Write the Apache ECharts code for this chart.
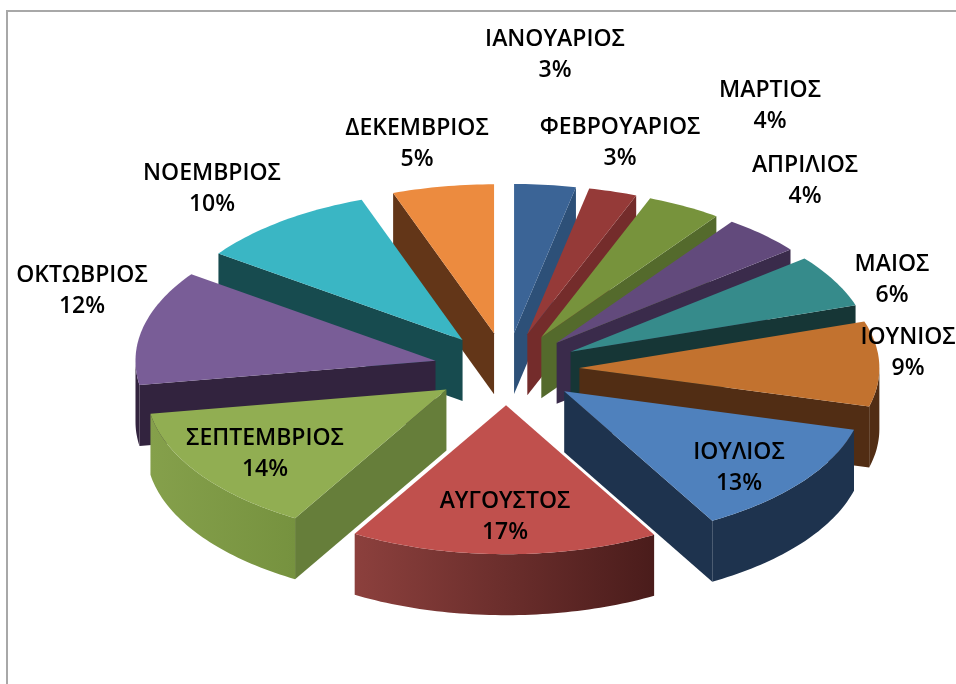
<!DOCTYPE html>
<html><head><meta charset="utf-8">
<style>html,body{margin:0;padding:0;background:#fff}#c{width:956px;height:684px}</style>
<script src="https://cdn.jsdelivr.net/npm/echarts@6/dist/echarts.min.js"></script>
</head><body><div id="c"></div>
<script>
const months = ['ΙΑΝΟΥΑΡΙΟΣ','ΦΕΒΡΟΥΑΡΙΟΣ','ΜΑΡΤΙΟΣ','ΑΠΡΙΛΙΟΣ','ΜΑΙΟΣ','ΙΟΥΝΙΟΣ','ΙΟΥΛΙΟΣ','ΑΥΓΟΥΣΤΟΣ','ΣΕΠΤΕΜΒΡΙΟΣ','ΟΚΤΩΒΡΙΟΣ','ΝΟΕΜΒΡΙΟΣ','ΔΕΚΕΜΒΡΙΟΣ'];
const shares = [3.3,2.6,4.0,4.3,5.7,9.2,12.6,16.6,13.95,12.45,9.65,5.45];
const topColors = ['#3b6496','#953a38','#77933c','#624a7c','#368b8b','#c2722f','#4f81bd','#c0504d','#91ae52','#795d97','#3ab6c4','#ec8b3f'];
const wallColors = ['#2d5078','#742c2b','#546a2c','#3a2b4b','#163636','#512d14','#1e334e','#5e2624','#667e3a','#32233e','#174b4f','#633618'];
const rimLight = ['#3b6496','#953a38','#77933c','#624a7c','#368b8b','#512d14','#1e334e','#8c403d','#85a04b','#32233e','#174b4f','#633618'];
const rimDark = ['#2d5078','#742c2b','#546a2c','#3a2b4b','#163636','#512d14','#1e334e','#4a1c1b','#76923f','#32233e','#174b4f','#633618'];
const labelCentres = [[555,55],[620,143],[770,106],[805,181],[892,280],[908,353],[739,468],[505,517],[265,454],[82,291],[212,189],[417,144]];

const pie = {cx:506.5, cy:369, rx:300, ry:149, explode:0.243, depth:61};
const total = shares.reduce((a,b)=>a+b,0);
let run = 0;
const spans = shares.map(v=>{const s=run/total*2*Math.PI; run+=v; return [s,run/total*2*Math.PI];});
const order = shares.map((_,i)=>i).sort((p,q)=>{
  const mp=(spans[p][0]+spans[p][1])/2, mq=(spans[q][0]+spans[q][1])/2;
  return Math.cos(mq)-Math.cos(mp);
});

function renderSlice(params, api){
  const i = api.value(0);
  const [a1,a2] = spans[i];
  const mid=(a1+a2)/2;
  const ox = pie.cx+pie.rx*pie.explode*Math.sin(mid);
  const oy = pie.cy-pie.ry*pie.explode*Math.cos(mid);
  const at=(a,d=0)=>[ox+pie.rx*Math.sin(a), oy-pie.ry*Math.cos(a)+d];
  const arc=(s,e,d=0)=>{const n=Math.max(2,Math.ceil((e-s)/0.02));const p=[];for(let k=0;k<=n;k++)p.push(at(s+(e-s)*k/n,d));return p;};
  const kids=[];
  const wall=(a)=>({type:'polygon',shape:{points:[[ox,oy],at(a),at(a,pie.depth),[ox,oy+pie.depth]]},style:{fill:wallColors[i]}});
  if(Math.sin(a1)<-1e-6) kids.push(wall(a1));
  if(Math.sin(a2)>1e-6) kids.push(wall(a2));
  const s=Math.max(a1,Math.PI/2), e=Math.min(a2,1.5*Math.PI);
  if(e>s){
    const pts=arc(s,e).concat(arc(s,e,pie.depth).reverse());
    kids.push({type:'polygon',shape:{points:pts},style:{fill:new echarts.graphic.LinearGradient(0,0,1,0,[{offset:0,color:rimLight[i]},{offset:1,color:rimDark[i]}])}});
  }
  kids.push({type:'polygon',shape:{points:[[ox,oy]].concat(arc(a1,a2))},style:{fill:topColors[i]}});
  return {type:'group',children:kids};
}
function renderLabel(params, api){
  const i = api.value(0);
  return {type:'text',x:labelCentres[i][0],y:labelCentres[i][1],
    style:{text:months[i]+'\n'+Math.round(shares[i])+'%',fill:'#000',font:'600 23px "Open Sans"',lineHeight:31,align:'center',verticalAlign:'middle'}};
}
const chart=echarts.init(document.getElementById('c'),null,{renderer:'canvas'});
chart.setOption({
  animation:false,
  backgroundColor:'#fff',
  graphic:[{type:'polyline',shape:{points:[[7,684],[7,11],[956,11]]},style:{stroke:'#a8a8a8',lineWidth:2,fill:null},z:0}],
  series:[
    {type:'custom',coordinateSystem:'none',data:order.map(i=>[i]),renderItem:renderSlice,silent:true,z:2},
    {type:'custom',coordinateSystem:'none',data:months.map((_,i)=>[i]),renderItem:renderLabel,silent:true,z:3}
  ]
});
</script></body></html>
